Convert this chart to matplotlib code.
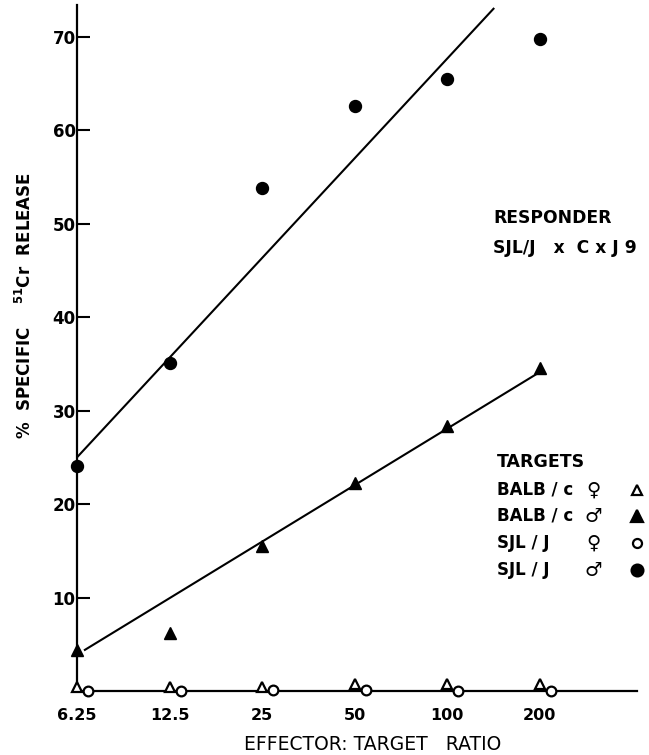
import matplotlib
matplotlib.use('Agg')
import matplotlib.pyplot as plt
import matplotlib.transforms as mtransforms
import numpy as np

plt.rcParams['font.family'] = ['DejaVu Sans']
plt.rcParams['mathtext.default'] = 'regular'

# effector : target ratios (log2 spaced)
ratios = [6.25, 12.5, 25, 50, 100, 200]
tick_labels = ['6.25', '12.5', '25', '50', '100', '200']

# % specific 51Cr release
sjl_male    = [24.1, 35.1, 53.8, 62.6, 65.5, 69.8]
balb_male   = [4.4, 6.2, 15.5, 22.3, 28.4, 34.6]
balb_female = [0.4, 0.4, 0.4, 0.7, 0.7, 0.8]
sjl_female  = [0.0, 0.0, 0.1, 0.1, 0.0, 0.0]

# hand drawn fit lines (end points: ratio, % release)
fit_sjl_x  = [6.25, 141.4]
fit_sjl_y  = [25.0, 73.0]
fit_balb_x = [6.63, 204.0]
fit_balb_y = [4.4, 34.3]

W, H = 649, 755
fig = plt.figure(figsize=(W / 100, H / 100), dpi=100)
ax = fig.add_axes([77 / W, 1 - 691 / H, (637 - 77) / W, (691 - 5) / H])

ax.set_xscale('log', base=2)
ax.set_xlim(6.25, 6.25 * 2 ** 6.05)
ax.set_ylim(0, 73.4)

ax.plot(fit_sjl_x, fit_sjl_y, color='black', lw=1.5)
ax.plot(fit_balb_x, fit_balb_y, color='black', lw=1.5)

ax.plot(ratios, sjl_male, 'o', color='black', ms=8.6, clip_on=False, zorder=5)
ax.plot(ratios, balb_male, '^', color='black', ms=9, clip_on=False, zorder=5)
ax.plot(ratios, balb_female, '^', mfc='white', mec='black', mew=1.6, ms=7.5,
        clip_on=False, zorder=6)
# open circles are drawn a little to the right of the triangles
shift = mtransforms.offset_copy(ax.transData, fig=fig, x=11, y=0, units='dots')
ax.plot(ratios, sjl_female, 'o', mfc='white', mec='black', mew=1.6, ms=7,
        transform=shift, clip_on=False, zorder=6)

for s in ['top', 'right']:
    ax.spines[s].set_visible(False)
for s in ['left', 'bottom']:
    ax.spines[s].set_linewidth(1.6)

ax.set_xticks(ratios)
ax.set_xticklabels(tick_labels)
ax.xaxis.set_minor_locator(matplotlib.ticker.NullLocator())
ax.tick_params(axis='x', length=0, pad=12, labelsize=11.5)
ax.set_yticks([10, 20, 30, 40, 50, 60, 70])
ax.tick_params(axis='y', direction='in', length=9, width=1.5, pad=1, labelsize=12)
for lab in ax.get_xticklabels() + ax.get_yticklabels():
    lab.set_fontweight('bold')

def px(x, y):
    return x / W, 1 - y / H

fig.text(*px(373, 745), 'EFFECTOR: TARGET   RATIO', ha='center', va='center',
         fontsize=13.5)
fig.text(*px(25, 306), r'%  SPECIFIC    $^{51}$Cr  RELEASE', rotation=90,
         ha='center', va='center', fontsize=12, fontweight='bold')

fig.text(*px(493, 218), 'RESPONDER', va='center', fontsize=12.3, fontweight='bold')
fig.text(*px(493, 248), 'SJL/J   x  C x J 9', va='center', fontsize=12.3,
         fontweight='bold')

fig.text(*px(497, 462), 'TARGETS', va='center', fontsize=12.5, fontweight='bold')
legend_rows = [('BALB / c', '\u2640', '^', 'white', 490),
               ('BALB / c', '\u2642', '^', 'black', 516),
               ('SJL / J', '\u2640', 'o', 'white', 543),
               ('SJL / J', '\u2642', 'o', 'black', 570)]
for name, sex, mk, face, y in legend_rows:
    fig.text(*px(497, y), name, va='center', fontsize=12, fontweight='bold')
    fig.text(*px(593, y), sex, ha='center', va='center', fontsize=14, fontweight='bold')
    ms = 7.5 if face == 'white' else 8.5
    if mk == 'o' and face == 'white':
        ms = 6.5
    ax.plot(*px(637, y), mk, mfc=face, mec='black', mew=1.6, ms=ms,
            transform=fig.transFigure, clip_on=False)

fig.savefig('out.png', dpi=100)
